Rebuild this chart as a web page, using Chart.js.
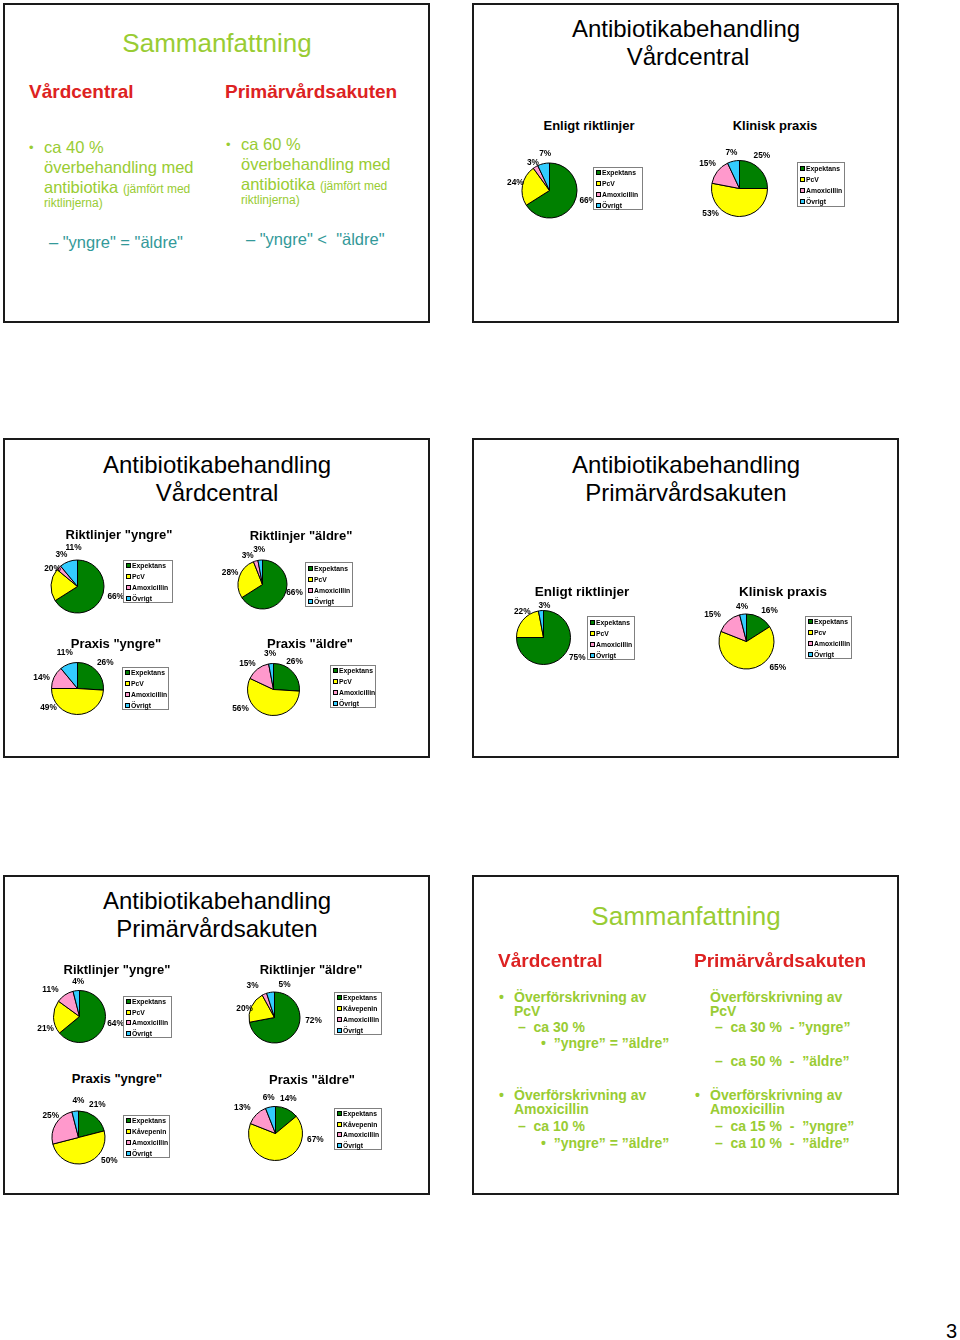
<!DOCTYPE html>
<html>
<head>
<meta charset="utf-8">
<script src="https://cdn.jsdelivr.net/npm/chart.js@4.4.1/dist/chart.umd.min.js"></script>
<style>
  body { margin: 0; width: 960px; height: 1340px; background: #fff; position: relative; overflow: hidden;
         font-family: "Liberation Sans", Arial, sans-serif; }
  .slide { position: absolute; width: 423px; height: 316px; border: 2px solid #1a1a1a; box-sizing: content-box; }
  .t { position: absolute; white-space: nowrap; line-height: 1; }
  .g { color: #99cc33; }
  .gb { color: #99cc33; font-weight: bold; }
  .r { color: #dd2222; font-weight: bold; }
  .teal { color: #339999; }
  .b { font-weight: bold; color: #000; }
  canvas { position: absolute; }
</style>
</head>
<body>
<div class="slide" style="left:3px;top:3px"></div>
<div class="slide" style="left:472px;top:3px"></div>
<div class="slide" style="left:3px;top:438px"></div>
<div class="slide" style="left:472px;top:438px"></div>
<div class="slide" style="left:3px;top:875px"></div>
<div class="slide" style="left:472px;top:875px"></div>

<script>
// DATA
// ================================================================
const catsPcV = ['Expektans', 'PcV', 'Amoxicillin', 'Övrigt'];
const catsPcv = ['Expektans', 'Pcv', 'Amoxicillin', 'Övrigt'];
const catsKv  = ['Expektans', 'Kåvepenin', 'Amoxicillin', 'Övrigt'];

// Vårdcentral
const vcRiktlinjer   = [66, 24, 3, 7];
const vcPraxis       = [25, 53, 15, 7];
const vcRiktYngre    = [66, 20, 3, 11];
const vcRiktAldre    = [66, 28, 3, 3];
const vcPraxisYngre  = [26, 49, 14, 11];
const vcPraxisAldre  = [26, 56, 15, 3];

// Primärvårdsakuten
const paRiktlinjer   = [75, 22, 0, 3];
const paPraxis       = [16, 65, 15, 4];
const paRiktYngre    = [64, 21, 11, 4];
const paRiktAldre    = [72, 20, 3, 5];
const paPraxisYngre  = [21, 50, 25, 4];
const paPraxisAldre  = [14, 67, 13, 6];

const sliceColors = ['#008000', '#ffff00', '#ff99cc', '#33ccff'];


// Plugins
// ================================================================
// percent labels outside the slices; nudge = [degrees, extra radius] per slice
var pctLabels = {
	id: 'pctLabels',
	afterDatasetsDraw(chart, args, o) {
		const ctx = chart.ctx;
		const values = chart.data.datasets[0].data;
		ctx.save();
		ctx.font = 'bold ' + o.size + 'px "Liberation Sans", Arial, sans-serif';
		ctx.fillStyle = '#000';
		ctx.textAlign = 'center';
		ctx.textBaseline = 'middle';
		chart.getDatasetMeta(0).data.forEach((arc, i) => {
			if (!values[i]) return;
			const p = arc.getProps(['x', 'y', 'startAngle', 'endAngle', 'outerRadius'], true);
			const n = o.nudge[i] || [0, 0];
			const a = (p.startAngle + p.endAngle) / 2 + n[0] * Math.PI / 180;
			const r = p.outerRadius + o.gap + n[1];
			ctx.fillText(values[i] + '%', p.x + Math.cos(a) * r, p.y + Math.sin(a) * r);
		});
		ctx.restore();
	}
};

var boxLegend = {
	id: 'boxLegend',
	afterDraw(chart, args, o) {
		const ctx = chart.ctx;
		const labels = chart.data.labels;
		const colors = chart.data.datasets[0].backgroundColor;
		const row = o.h / labels.length;
		ctx.save();
		ctx.fillStyle = '#fff';
		ctx.fillRect(o.x, o.y, o.w, o.h);
		ctx.strokeStyle = '#808080';
		ctx.lineWidth = 1;
		ctx.strokeRect(o.x + 0.5, o.y + 0.5, o.w - 1, o.h - 1);
		ctx.font = 'bold 6.8px "Liberation Sans", Arial, sans-serif';
		ctx.textBaseline = 'middle';
		ctx.textAlign = 'left';
		labels.forEach((l, i) => {
			const yc = Math.round(o.y + row * (i + 0.5));
			ctx.fillStyle = colors[i];
			ctx.fillRect(o.x + 3, yc - 2, 5, 5);
			ctx.strokeStyle = '#000';
			ctx.strokeRect(o.x + 3.5, yc - 1.5, 4, 4);
			ctx.fillStyle = '#000';
			ctx.fillText(l, o.x + 9, yc + 1);
		});
		ctx.restore();
	}
};


// Layout of the pies (page pixels)
// ================================================================
var pies = [
	{ labels: catsPcV, values: vcRiktlinjer,  cx: 549, cy: 190,  d: 55, lg: [593, 167, 50, 43],
	  nudge: [[-14, 2], [2, -2.5], [0, -5], [6, 0]] },
	{ labels: catsPcV, values: vcPraxis,      cx: 739, cy: 188,  d: 56, lg: [797, 162, 48, 45],
	  nudge: [[-11, 2], [44, 0], [0, 2.5], [0, -1]] },
	{ labels: catsPcV, values: vcRiktYngre,   cx: 77,  cy: 586,  d: 53, lg: [123, 560, 50, 43],
	  nudge: [[-14, 3], [32, -5.7], [18, -1], [14, 2.7]] },
	{ labels: catsPcV, values: vcRiktAldre,   cx: 262, cy: 584,  d: 49, lg: [305, 562, 48, 45],
	  nudge: [[-15, -1.5], [2, 0], [-11, -2], [0, 0]] },
	{ labels: catsPcV, values: vcPraxisYngre, cx: 77,  cy: 688,  d: 52, lg: [122, 667, 47, 43],
	  nudge: [[0, 2], [54, -1], [-8, 1.6], [0, 1.7]] },
	{ labels: catsPcV, values: vcPraxisAldre, cx: 273, cy: 689,  d: 52, lg: [330, 665, 46, 43],
	  nudge: [[-10, -1], [46, 2], [-7, 1], [0, 0]] },
	{ labels: catsPcV, values: paRiktlinjer,  cx: 543, cy: 637,  d: 54, lg: [587, 616, 48, 44],
	  nudge: [[-14, 2.4], [11, -3.6], [0, 0], [7, -5]] },
	{ labels: catsPcv, values: paPraxis,      cx: 746, cy: 641,  d: 55, lg: [805, 616, 47, 43],
	  nudge: [[8, 1], [-45, 3], [-10, 6], [0, -2]] },
	{ labels: catsPcV, values: paRiktYngre,   cx: 79,  cy: 1016, d: 52, lg: [123, 996, 49, 42],
	  nudge: [[-14, 0.7], [-18, 0], [-13, 3.6], [5, -1]] },
	{ labels: catsKv,  values: paRiktAldre,   cx: 274, cy: 1017, d: 51, lg: [334, 992, 48, 43],
	  nudge: [[-35, 3.6], [-8, -4.2], [-11, 3.3], [26, -1]] },
	{ labels: catsKv,  values: paPraxisYngre, cx: 78,  cy: 1137, d: 53, lg: [123, 1115, 47, 43],
	  nudge: [[-8, 1.5], [-39, 2], [8, -1], [7, 0.5]] },
	{ labels: catsKv,  values: paPraxisAldre, cx: 275, cy: 1133, d: 54, lg: [334, 1108, 48, 42],
	  nudge: [[-5, 0.3], [-72, 3.4], [-7, 5], [0, -0.5]] }
];

function makePie(s) {
	const left = Math.round(s.cx - s.d / 2 - 32);
	const top = Math.round(Math.min(s.cy - s.d / 2, s.lg[1]) - 22);
	const W = Math.round(s.lg[0] + s.lg[2] + 4 - left);
	const H = Math.round(Math.max(s.cy + s.d / 2, s.lg[1] + s.lg[3]) + 22 - top);
	const cv = document.createElement('canvas');
	cv.width = W; cv.height = H;
	cv.style.left = left + 'px'; cv.style.top = top + 'px';
	cv.style.width = W + 'px'; cv.style.height = H + 'px';
	document.body.appendChild(cv);
	const padL = s.cx - s.d / 2 - left, padT = s.cy - s.d / 2 - top;
	new Chart(cv, {
		type: 'pie',
		data: {
			labels: s.labels,
			datasets: [{ data: s.values, backgroundColor: sliceColors, borderColor: '#000', borderWidth: 1 }]
		},
		options: {
			responsive: false,
			animation: false,
			layout: { padding: { left: padL, top: padT, right: W - padL - s.d - 1, bottom: H - padT - s.d - 1 } },
			plugins: {
				legend: { display: false },
				tooltip: { enabled: false },
				pctLabels: { gap: 10, size: 8.3, nudge: s.nudge || [] },
				boxLegend: { x: s.lg[0] - left, y: s.lg[1] - top, w: s.lg[2], h: s.lg[3] }
			}
		},
		plugins: [pctLabels, boxLegend]
	});
}
pies.forEach(makePie);


// Slide texts
// ================================================================
function txt(x, base, size, html, cls, center) {
	const el = document.createElement('div');
	el.className = 't ' + (cls || '');
	el.style.fontSize = size + 'px';
	el.style.left = x + 'px';
	el.style.top = (base - 0.8465 * size) + 'px';
	if (center) el.style.transform = 'translateX(-50%)';
	el.innerHTML = html;
	document.body.appendChild(el);
}

// slide 1
txt(217, 52, 26, 'Sammanfattning', 'g', true);
txt(29, 98, 19, 'Vårdcentral', 'r');
txt(225, 98, 19, 'Primärvårdsakuten', 'r');
txt(29, 152, 13, '•', 'g');
txt(44, 153, 16.5, 'ca 40 %', 'g');
txt(44, 173, 16.5, 'överbehandling med', 'g');
txt(44, 193, 16.5, 'antibiotika <span style="font-size:12px">(jämfört med</span>', 'g');
txt(44, 207, 12, 'riktlinjerna)', 'g');
txt(226, 149, 13, '•', 'g');
txt(241, 150, 16.5, 'ca 60 %', 'g');
txt(241, 170, 16.5, 'överbehandling med', 'g');
txt(241, 190, 16.5, 'antibiotika <span style="font-size:12px">(jämfört med</span>', 'g');
txt(241, 204, 12, 'riktlinjerna)', 'g');
txt(49, 248, 16.5, '– "yngre" = "äldre"', 'teal');
txt(246, 245, 16.5, '– "yngre" &lt;&nbsp; "äldre"', 'teal');

// slide 2
txt(686, 37.5, 24, 'Antibiotikabehandling', '', true);
txt(688, 65.5, 24, 'Vårdcentral', '', true);
txt(589, 130, 13, 'Enligt riktlinjer', 'b', true);
txt(775, 130, 13, 'Klinisk praxis', 'b', true);

// slide 3
txt(217, 473.5, 24, 'Antibiotikabehandling', '', true);
txt(217, 501.5, 24, 'Vårdcentral', '', true);
txt(119, 539, 13, 'Riktlinjer "yngre"', 'b', true);
txt(301, 540, 13, 'Riktlinjer "äldre"', 'b', true);
txt(116, 648, 13, 'Praxis "yngre"', 'b', true);
txt(310, 648, 13, 'Praxis "äldre"', 'b', true);

// slide 4
txt(686, 473.5, 24, 'Antibiotikabehandling', '', true);
txt(686, 501.5, 24, 'Primärvårdsakuten', '', true);
txt(582, 596, 13.5, 'Enligt riktlinjer', 'b', true);
txt(783, 596, 13.5, 'Klinisk praxis', 'b', true);

// slide 5
txt(217, 909.5, 24, 'Antibiotikabehandling', '', true);
txt(217, 937.5, 24, 'Primärvårdsakuten', '', true);
txt(117, 974, 13, 'Riktlinjer "yngre"', 'b', true);
txt(311, 974, 13, 'Riktlinjer "äldre"', 'b', true);
txt(117, 1083, 13, 'Praxis "yngre"', 'b', true);
txt(312, 1084, 13, 'Praxis "äldre"', 'b', true);

// slide 6
txt(686, 925, 26, 'Sammanfattning', 'g', true);
txt(498, 967, 19, 'Vårdcentral', 'r');
txt(694, 967, 19, 'Primärvårdsakuten', 'r');
txt(499, 1002, 14, '•', 'gb');
txt(514, 1002, 14, 'Överförskrivning av', 'gb');
txt(514, 1016, 14, 'PcV', 'gb');
txt(518, 1032, 14, '–&nbsp; ca 30 %', 'gb');
txt(541, 1048, 14, '•&nbsp; ”yngre” = ”äldre”', 'gb');
txt(499, 1100, 14, '•', 'gb');
txt(514, 1100, 14, 'Överförskrivning av', 'gb');
txt(514, 1114, 14, 'Amoxicillin', 'gb');
txt(518, 1131, 14, '–&nbsp; ca 10 %', 'gb');
txt(541, 1148, 14, '•&nbsp; ”yngre” = ”äldre”', 'gb');
txt(710, 1002, 14, 'Överförskrivning av', 'gb');
txt(710, 1016, 14, 'PcV', 'gb');
txt(715, 1032, 14, '–&nbsp; ca 30 %&nbsp; - ”yngre”', 'gb');
txt(715, 1066, 14, '–&nbsp; ca 50 %&nbsp; -&nbsp; ”äldre”', 'gb');
txt(695, 1100, 14, '•', 'gb');
txt(710, 1100, 14, 'Överförskrivning av', 'gb');
txt(710, 1114, 14, 'Amoxicillin', 'gb');
txt(715, 1131, 14, '–&nbsp; ca 15 %&nbsp; -&nbsp; ”yngre”', 'gb');
txt(715, 1148, 14, '–&nbsp; ca 10 %&nbsp; -&nbsp; ”äldre”', 'gb');

// page number
txt(946, 1338, 20, '3', '');
</script>
</body>
</html>
